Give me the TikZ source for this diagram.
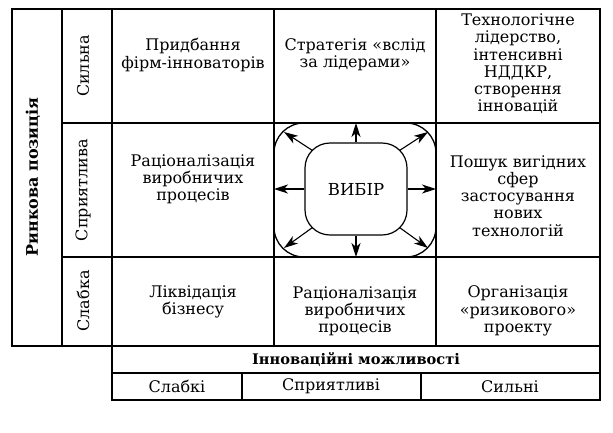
\documentclass[tikz,border=0pt]{standalone}
\usepackage{fontspec}
\setmainfont{DejaVu Serif}
\usetikzlibrary{arrows.meta}
\begin{document}
\begin{tikzpicture}[x=1pt,y=-1pt,
  grid/.style={line width=1.3pt},
  txt/.style={align=center,font=\fontsize{16}{17.2}\selectfont,inner sep=0pt},
  lab/.style={font=\fontsize{16}{17.2}\selectfont,inner sep=0pt},
  arr/.style={line width=1.1pt,-{Stealth[length=14pt,width=9pt,inset=4pt]}}]
\useasboundingbox (0,0) rectangle (613,432);
% left boxes
\draw[grid] (12,9) rectangle (62,346);
\draw[grid] (62,9) rectangle (112,346);
\draw[grid] (62,123) -- (112,123);
\draw[grid] (62,257) -- (112,257);
% matrix
\draw[grid] (112,9) rectangle (600,346);
\draw[grid] (274,9) -- (274,346);
\draw[grid] (436,9) -- (436,346);
\draw[grid] (112,123) -- (600,123);
\draw[grid] (112,257) -- (600,257);
% bottom
\draw[grid] (112,346) rectangle (600,400);
\draw[grid] (112,373) -- (600,373);
\draw[grid] (242,373) -- (242,400);
\draw[grid] (421,373) -- (421,400);
% labels left
\node[lab,rotate=90,font=\fontsize{16}{17}\selectfont\bfseries] (rp) at (33,177) {Ринкова позиція};
\node[lab,rotate=90] (s1) at (83,66) {Сильна};
\node[lab,rotate=90] (s2) at (83,190) {Сприятлива};
\node[lab,rotate=90] (s3) at (83,301) {Слабка};
% bottom labels
\node[lab,font=\fontsize{14.6}{17}\selectfont\bfseries] (im) at (356,359.5) {Інноваційні можливості};
\node[lab] (b1) at (177,386.5) {Слабкі};
\node[lab] (b2) at (331,386.5) {Сприятливі};
\node[lab] (b3) at (510,386.5) {Сильні};
% cells
\node[txt] (c11) at (193,55) {Придбання\\фірм-інноваторів};
\node[txt] (c12) at (355,55) {Стратегія «вслід\\за лідерами»};
\node[txt] (c13) at (518,64) {Технологічне\\лідерство,\\інтенсивні\\НДДКР,\\створення\\інновацій};
\node[txt] (c21) at (193,179) {Раціоналізація\\виробничих\\процесів};
\node[txt] (c23) at (518,196) {Пошук вигідних\\сфер\\застосування\\нових\\технологій};
\node[txt] (c31) at (193,302) {Ліквідація\\бізнесу};
\node[txt] (c32) at (355,311) {Раціоналізація\\виробничих\\процесів};
\node[txt] (c33) at (518,311) {Організація\\«ризикового»\\проекту};
% centre
\draw[line width=1.3pt,rounded corners=30pt] (274,123) rectangle (436,257);
\node[draw,line width=1.2pt,rounded corners=25pt,minimum width=102pt,minimum height=92pt,
  font=\fontsize{16.5}{17}\selectfont] (vib) at (356,189) {ВИБІР};
\coordinate (oN) at (356,123);
\coordinate (oS) at (356,257);
\coordinate (oW) at (274,189);
\coordinate (oE) at (436,189);
\coordinate (iNW) at (312.5,150.5);
\coordinate (iNE) at (399.5,150.5);
\coordinate (iSW) at (312.5,227.5);
\coordinate (iSE) at (399.5,227.5);
\coordinate (oNW) at (284,132);
\coordinate (oNE) at (428,132);
\coordinate (oSW) at (284,248);
\coordinate (oSE) at (428,248);
\draw[arr] (vib.north) -- (oN);
\draw[arr] (vib.south) -- (oS);
\draw[arr] (vib.west) -- (oW);
\draw[arr] (vib.east) -- (oE);
\draw[arr] (iNW) -- (oNW);
\draw[arr] (iNE) -- (oNE);
\draw[arr] (iSW) -- (oSW);
\draw[arr] (iSE) -- (oSE);
\end{tikzpicture}
\end{document}
